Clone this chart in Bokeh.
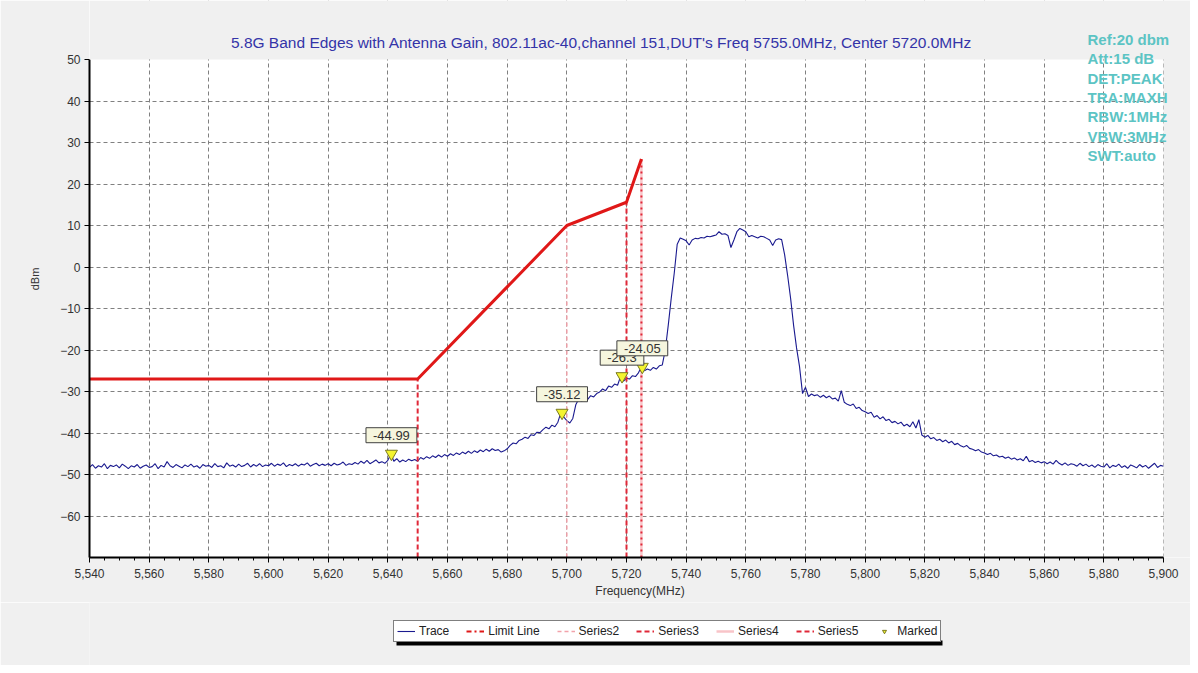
import numpy as np
from bokeh.plotting import figure
from bokeh.layouts import column
from bokeh.models import (Range1d, FixedTicker, NumeralTickFormatter, Label, Legend,
                          LegendItem, ColumnDataSource, BoxAnnotation)
from bokeh.embed import file_html
from bokeh.resources import INLINE

# ---------------- data ----------------
title_text = "5.8G Band Edges with Antenna Gain, 802.11ac-40,channel 151,DUT's Freq 5755.0MHz, Center 5720.0MHz"
info_lines = ["Ref:20 dbm", "Att:15 dB", "DET:PEAK", "TRA:MAXH", "RBW:1MHz", "VBW:3MHz", "SWT:auto"]

trace_start_mhz = 5540
trace_step_mhz = 1
trace_dbm = [
    -48.3, -47.6, -48.5, -47.9, -48.2, -47.4, -48.6, -47.8, -48.1, -47.7,
    -48.4, -47.5, -48.0, -48.6, -47.9, -48.2, -47.6, -48.5, -48.0, -47.7,
    -48.3, -48.1, -47.4, -48.6, -47.8, -48.2, -46.9, -47.9, -48.3, -47.6,
    -48.0, -48.4, -47.7, -48.1, -47.5, -48.2, -47.9, -48.5, -47.6, -48.0,
    -47.8, -48.3, -47.4, -48.1, -47.9, -48.4, -47.2, -48.0, -47.7, -48.2,
    -47.5, -48.1, -47.8, -47.3, -48.2, -47.6, -48.0, -47.4, -48.1, -47.7,
    -47.9, -47.3, -48.0, -47.5, -47.8, -47.2, -48.1, -47.6, -47.9, -47.4,
    -48.0, -47.5, -47.7, -47.2, -48.0, -47.6, -47.3, -47.9, -47.5, -47.8,
    -47.4, -47.9, -47.3, -47.7, -47.5, -47.0, -47.8, -47.4, -47.6, -47.1,
    -47.5, -46.8, -47.3, -46.6, -47.4, -47.0, -46.5, -47.2, -46.9, -47.3,
    -46.6, -45.0, -46.8, -46.2, -47.0, -46.5, -46.9, -46.3, -46.7, -46.4,
    -46.8, -45.9, -46.3, -45.7, -46.1, -45.5, -45.9, -45.3, -45.8, -45.2,
    -45.6, -45.0, -45.4, -44.8, -45.2, -44.6, -45.0, -44.4, -44.9, -44.3,
    -44.7, -44.1, -44.5, -43.9, -44.4, -43.8, -44.2, -44.0, -44.6, -44.3,
    -43.8, -43.0, -42.4, -42.6, -41.8, -41.5, -41.0, -41.3, -40.4, -40.6,
    -39.8, -39.9, -39.2, -38.6, -39.0, -38.1, -38.5, -37.4, -35.1, -36.2,
    -37.0, -37.6, -36.5, -33.2, -31.8, -32.4, -31.5, -31.9, -31.0, -31.3,
    -30.5, -30.1, -29.4, -29.8, -28.7, -29.0, -28.2, -28.5, -26.4, -27.5,
    -26.8, -27.0, -26.2, -26.4, -25.5, -24.1, -25.0, -24.6, -24.9, -24.2,
    -24.6, -23.8, -23.6, -20.0, -14.0, -7.5, -1.5, 5.5, 7.0, 6.7,
    6.3, 5.3, 6.5, 6.9, 6.8, 7.1, 7.0, 7.4, 7.3, 7.5,
    7.7, 8.5, 7.9, 8.0, 7.6, 4.7, 6.5, 8.5, 9.3, 8.9,
    8.5, 7.3, 7.6, 7.3, 7.0, 7.4, 7.3, 6.9, 6.5, 5.2,
    6.5, 6.8, 6.6, 3.0, -2.0, -7.5, -14.0, -19.5, -24.0, -30.5,
    -29.0, -31.2, -30.6, -31.0, -30.8, -31.4, -30.9, -31.5, -31.1, -31.8,
    -31.6, -32.3, -29.8, -32.6, -33.1, -33.4, -33.0, -34.1, -33.8, -34.6,
    -34.9, -35.3, -35.0, -36.2, -35.8, -36.6, -36.1, -37.0, -36.7, -37.5,
    -37.2, -37.8, -37.4, -38.3, -37.9, -38.5, -37.3, -38.8, -36.8, -40.5,
    -41.0, -40.6, -41.4, -41.1, -41.8, -41.5, -42.1, -41.7, -42.4, -42.0,
    -42.8, -42.5, -43.1, -43.4, -43.0, -43.7, -43.9, -44.3, -44.0, -44.6,
    -44.8, -45.2, -44.9, -45.5, -45.3, -45.8, -45.6, -46.1, -45.8, -46.3,
    -46.0, -46.5, -46.2, -46.7, -45.6, -46.9, -46.6, -47.1, -46.8, -47.2,
    -46.9, -47.4, -47.0, -47.5, -46.6, -47.3, -47.7, -47.2, -47.8, -47.4,
    -47.6, -48.0, -47.3, -47.9, -47.5, -48.1, -47.7, -48.3, -47.6, -48.0,
    -48.2, -47.4, -48.4, -47.8, -48.1, -47.5, -48.3, -47.9, -48.5, -47.7,
    -48.0, -48.4, -47.6, -48.2, -47.8, -48.5, -47.9, -47.3, -48.3, -47.8,
    -48.0,
]

limit_freq = [5540, 5650, 5700, 5720, 5725]
limit_dbm = [-27, -27, 10, 15.6, 26]

series_names = ["Series2", "Series3", "Series4", "Series5"]
series_freq = [5700, 5720, 5725, 5650]
series_top = [10, 15.6, 26, -27]

marker_freq = [5641.2, 5698.4, 5718.5, 5725.3]
marker_dbm = [-44.99, -35.12, -26.3, -24.05]
marker_text = ["-44.99", "-35.12", "-26.3", "-24.05"]

legend_labels = ["Trace", "Limit Line", "Series2", "Series3", "Series4", "Series5", "Marked"]

x_min, x_max = 5540, 5900
y_min, y_max = -70, 50
x_ticks = list(range(5540, 5901, 20))
x_minor = list(range(5540, 5901, 5))
y_ticks = list(range(-60, 51, 10))
y_grid = list(range(-60, 41, 10))

# ---------------- layout (pixels) ----------------
FONT = "Liberation Sans"
GRAY = "#f0f0f0"
FIG_W = 1190
MAIN_H = 602
LEG_H = 63
FRAME_L, FRAME_B = 89, 557     # data-area left / bottom edge on the page
DATA_R, DATA_T = 1163, 59      # data-area right / top edge on the page
px_x = (DATA_R - FRAME_L) / (x_max - x_min)
px_y = (FRAME_B - DATA_T) / (y_max - y_min)
view_x_max = x_max + (FIG_W - DATA_R) / px_x
view_y_max = y_max + DATA_T / px_y

p = figure(width=FIG_W, height=MAIN_H, output_backend="svg", toolbar_location=None,
           x_range=Range1d(x_min, view_x_max), y_range=Range1d(y_min, view_y_max),
           min_border_left=FRAME_L, min_border_right=0, min_border_top=0,
           min_border_bottom=MAIN_H - FRAME_B)
p.border_fill_color = GRAY
p.background_fill_color = "white"
p.outline_line_color = None

# axes
for ax in (p.xaxis[0], p.yaxis[0]):
    ax.axis_line_width = 2
    ax.axis_line_color = "black"
    ax.major_tick_line_color = "black"
    ax.major_tick_in = 0
    ax.major_tick_out = 5
    ax.major_label_text_font = FONT
    ax.major_label_text_font_size = "12px"
    ax.major_label_text_color = "#333333"
    ax.axis_label_text_font = FONT
    ax.axis_label_text_font_style = "normal"
    ax.axis_label_text_color = "#333333"

p.xaxis.bounds = (x_min, x_max)
p.yaxis.bounds = (y_min, y_max)
p.xaxis.ticker = FixedTicker(ticks=x_ticks, minor_ticks=x_minor)
p.xaxis.formatter = NumeralTickFormatter(format="0,0")
p.xaxis.minor_tick_line_color = "black"
p.xaxis.minor_tick_in = 0
p.xaxis.minor_tick_out = 3
p.xaxis.axis_label = "Frequency(MHz)"
p.xaxis.axis_label_text_font_size = "12px"
p.xaxis.major_label_standoff = 6
p.xaxis.axis_label_standoff = 3

p.yaxis.ticker = FixedTicker(ticks=y_ticks)
p.yaxis.minor_tick_line_color = None
p.yaxis.axis_label = "dBm"
p.yaxis.axis_label_text_font_size = "11px"
p.yaxis.major_label_standoff = 4
p.yaxis.axis_label_standoff = 16

p.xgrid.ticker = FixedTicker(ticks=x_ticks)
p.ygrid.ticker = FixedTicker(ticks=y_grid)
for g in (p.xgrid[0], p.ygrid[0]):
    g.grid_line_color = "#808080"
    g.grid_line_dash = "4 3"
    g.grid_line_width = 1

# ---------------- glyphs ----------------
TRACE_STYLE = dict(line_color="#1a1a8f", line_width=1.1)
LIMIT_ICON = dict(line_color="#e01818", line_width=2, line_dash="5 3 2 3")
MARK_STYLE = dict(marker="inverted_triangle", fill_color="#f4f430", line_color="#7a7a20",
                  line_width=1)
series_style = {
    "Series2": dict(line_color="#f2a2aa", line_dash="4 3", line_width=1.5),
    "Series3": dict(line_color="#e02838", line_dash="5 3", line_width=2),
    "Series4": dict(line_color="#f8c4c8", line_dash="solid", line_width=2.5),
    "Series5": dict(line_color="#e02838", line_dash="5 3", line_width=2),
}

trace_freq = trace_start_mhz + trace_step_mhz * np.arange(len(trace_dbm))
p.line(trace_freq, trace_dbm, **TRACE_STYLE)

for name, f, top in zip(series_names, series_freq, series_top):
    src = ColumnDataSource(dict(x=[f, f], y=[y_min, top]))
    p.line("x", "y", source=src, **series_style[name])
# dotted red overlay on the 5725 edge
p.line([series_freq[2], series_freq[2]], [y_min, series_top[2]], line_color="#e02838",
       line_dash="2 4", line_width=2)

p.line(limit_freq, limit_dbm, line_color="#e01818", line_width=3)
p.scatter(marker_freq, marker_dbm, size=12, **MARK_STYLE)

# gray covers for the area outside the 50 dBm / 5900 MHz data box
p.add_layout(BoxAnnotation(bottom=y_max, fill_color=GRAY, fill_alpha=1, line_color=None))
p.add_layout(BoxAnnotation(left=x_max, fill_color=GRAY, fill_alpha=1, line_color=None))

for f, v, t in zip(marker_freq, marker_dbm, marker_text):
    p.add_layout(Label(x=f, y=v, text=t, text_align="center", text_baseline="bottom",
                       y_offset=11, text_font=FONT, text_font_size="13px", text_color="#333333",
                       background_fill_color="#f6f6de", border_line_color="#404040",
                       border_line_width=1, padding=(7, 3)))

# title (frame-relative screen units)
p.add_layout(Label(x=601 - FRAME_L, y=FRAME_B - 42, x_units="screen", y_units="screen",
                   text=title_text, text_align="center", text_baseline="middle",
                   text_font=FONT, text_font_size="15.5px", text_color="#3434a8"))

# info block top right
for i, t in enumerate(info_lines):
    p.add_layout(Label(x=1087 - FRAME_L, y=FRAME_B - 39 - i * 19.3, x_units="screen",
                       y_units="screen", text=t, text_baseline="middle", text_font=FONT,
                       text_font_size="15px", text_font_style="bold", text_color="#5cc4c4"))

# ---------------- legend strip (second figure, page-pixel coordinates) ----------------
q = figure(width=FIG_W, height=LEG_H, output_backend="svg", toolbar_location=None,
           x_range=Range1d(FRAME_L, FIG_W), y_range=Range1d(0, LEG_H),
           x_axis_type=None, y_axis_type=None, min_border=0)
q.border_fill_color = GRAY
q.background_fill_color = GRAY
q.outline_line_color = None
q.grid.visible = False

LEG_L, LEG_R, LEG_T, LEG_B = 393, 940, 624, 642   # page pixels
leg_bottom = MAIN_H + LEG_H - LEG_B                 # legend bottom, up from strip bottom
# shadow under the legend box
q.add_layout(BoxAnnotation(left=LEG_L + 3, right=LEG_R + 2, bottom=leg_bottom - 3,
                           top=leg_bottom + 2, fill_color="black", fill_alpha=1, line_color=None))

nan = [np.nan]
icons = [
    q.line([FRAME_L], nan, **TRACE_STYLE),
    q.line([FRAME_L], nan, **LIMIT_ICON),
] + [q.line([FRAME_L], nan, **series_style[n]) for n in series_names] + [
    q.scatter([FRAME_L], nan, size=9, **MARK_STYLE),
]
legend = Legend(items=[LegendItem(label=l, renderers=[r]) for l, r in zip(legend_labels, icons)],
                orientation="horizontal", location=(LEG_L - FRAME_L, leg_bottom))
legend.label_text_font = FONT
legend.label_text_font_size = "12px"
legend.label_text_color = "#222222"
legend.glyph_width = 18
legend.glyph_height = 10
legend.label_standoff = 4
legend.spacing = 17
legend.padding = 3
legend.margin = 0
legend.border_line_color = "black"
legend.border_line_width = 1
legend.background_fill_color = "white"
legend.background_fill_alpha = 1
legend.label_height = 12
q.add_layout(legend, "center")

layout = column(p, q, spacing=0)
open("out.html", "w").write(file_html(layout, INLINE))
